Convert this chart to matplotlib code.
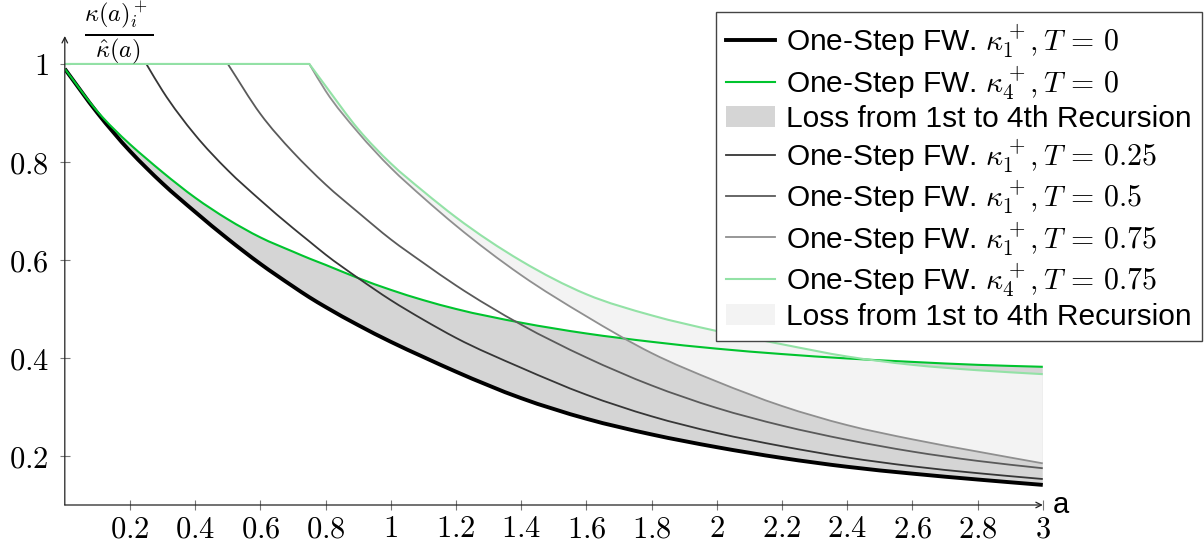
import numpy as np
import matplotlib
matplotlib.use("Agg")
import matplotlib.pyplot as plt
from matplotlib.patches import Patch, PathPatch
from matplotlib.lines import Line2D
from matplotlib.path import Path

plt.rcParams['font.family'] = ['Liberation Sans', 'DejaVu Sans']
plt.rcParams['mathtext.fontset'] = 'cm'

#values
a = [0, 0.1, 0.2, 0.25, 0.3, 0.4, 0.5, 0.6, 0.7, 0.75, 0.8, 0.9, 1.0, 1.1, 1.2,
     1.4, 1.6, 1.8, 2.0, 2.2, 2.4, 2.6, 2.8, 3.0]
k1_T0 = [0.99, 0.90, 0.822, 0.788, 0.756, 0.698, 0.643, 0.592, 0.546, 0.524, 0.504, 0.467,
         0.433, 0.402, 0.372, 0.318, 0.276, 0.244, 0.218, 0.196, 0.178, 0.164, 0.152, 0.141]
k4_T0 = [0.99, 0.903, 0.836, 0.807, 0.779, 0.727, 0.683, 0.646, 0.617, 0.603, 0.59, 0.563,
         0.539, 0.518, 0.5, 0.472, 0.45, 0.433, 0.419, 0.408, 0.399, 0.392, 0.386, 0.382]
k1_T025 = [1, 1, 1, 1, 0.945, 0.855, 0.783, 0.722, 0.665, 0.638, 0.611, 0.563,
           0.518, 0.478, 0.441, 0.38, 0.325, 0.281, 0.247, 0.22, 0.197, 0.179, 0.165, 0.153]
k1_T05 = [1, 1, 1, 1, 1, 1, 1, 0.898, 0.82, 0.786, 0.754, 0.697,
          0.642, 0.594, 0.548, 0.468, 0.401, 0.344, 0.298, 0.262, 0.233, 0.209, 0.19, 0.175]
k1_T075 = [1, 1, 1, 1, 1, 1, 1, 1, 1, 1, 0.945, 0.86,
           0.788, 0.727, 0.67, 0.569, 0.485, 0.41, 0.352, 0.302, 0.263, 0.234, 0.209, 0.185]
k4_T075 = [1, 1, 1, 1, 1, 1, 1, 1, 1, 1, 0.955, 0.867,
           0.797, 0.74, 0.687, 0.598, 0.53, 0.487, 0.455, 0.428, 0.403, 0.386, 0.375, 0.367]
#index in a where each curve leaves the flat part (a = T)
start_T = {'0': 0, '0.25': 3, '0.5': 6, '0.75': 9}

xticks = [0.2, 0.4, 0.6, 0.8, 1, 1.2, 1.4, 1.6, 1.8, 2, 2.2, 2.4, 2.6, 2.8, 3]
yticks = [0.2, 0.4, 0.6, 0.8, 1]

labels = [r'One-Step FW. $\kappa_1^+, T \,=\, 0$',
          r'One-Step FW. $\kappa_4^+, T \,=\, 0$',
          'Loss from 1st to 4th Recursion',
          r'One-Step FW. $\kappa_1^+, T \,=\, 0.25$',
          r'One-Step FW. $\kappa_1^+, T \,=\, 0.5$',
          r'One-Step FW. $\kappa_1^+, T \,=\, 0.75$',
          r'One-Step FW. $\kappa_4^+, T \,=\, 0.75$',
          'Loss from 1st to 4th Recursion']

GREEN = '#00c42e'
LGREEN = '#93e2a6'
FILL1 = '#d5d5d5'
FILL2 = '#f3f3f3'


def curve(x, y, start=0):
    #flat part as a line, then a smooth (hermite) path through the points
    x = np.asarray(x, float)
    y = np.asarray(y, float)
    verts = [(x[0], y[0])]
    codes = [Path.MOVETO]
    if start > 0:
        verts.append((x[start], y[start]))
        codes.append(Path.LINETO)
    xs, ys = x[start:], y[start:]
    m = np.gradient(ys, xs)
    for i in range(len(xs) - 1):
        h = xs[i + 1] - xs[i]
        verts += [(xs[i] + h / 3, ys[i] + m[i] * h / 3),
                  (xs[i + 1] - h / 3, ys[i + 1] - m[i + 1] * h / 3),
                  (xs[i + 1], ys[i + 1])]
        codes += [Path.CURVE4] * 3
    return verts, codes


def band(x, lo, hi):
    up_v, up_c = curve(x, hi)
    lo_v, lo_c = curve(x, lo)
    verts = up_v + lo_v[::-1] + [up_v[0]]
    codes = up_c + [Path.LINETO] + lo_c[1:] + [Path.CLOSEPOLY]
    return Path(verts, codes)


def draw(ax, x, y, start, color, lw):
    v, c = curve(x, y, start)
    ax.add_patch(PathPatch(Path(v, c), fill=False, edgecolor=color, lw=lw,
                           joinstyle='round', capstyle='butt', zorder=3))


fig = plt.figure(figsize=(12.04, 5.51), dpi=100)
ax = fig.add_axes([64.8 / 1204, 46 / 551, 978 / 1204, 469 / 551])
ax.set_xlim(0, 3)
ax.set_ylim(0.1, 1.057)

#fills first so lines sit on top
s = start_T['0.75']
ax.add_patch(PathPatch(band(a, k1_T0, k4_T0), facecolor=FILL1, lw=0, zorder=1))
ax.add_patch(PathPatch(band(a[s:], k1_T075[s:], k4_T075[s:]), facecolor=FILL2, lw=0, zorder=1.1))

draw(ax, a, k1_T0, start_T['0'], 'black', 2.8)
draw(ax, a, k4_T0, start_T['0'], GREEN, 1.5)
draw(ax, a, k1_T025, start_T['0.25'], '#363636', 1.3)
draw(ax, a, k1_T05, start_T['0.5'], '#5a5a5a', 1.3)
draw(ax, a, k1_T075, start_T['0.75'], '#8f8f8f', 1.3)
draw(ax, a, k4_T075, start_T['0.75'], LGREEN, 1.5)

#axis lines with arrows
for sp in ax.spines.values():
    sp.set_visible(False)
ax.annotate('', xy=(1, 0), xytext=(0, 0), xycoords='axes fraction',
            arrowprops=dict(arrowstyle='->', lw=0.9, color='#222222', shrinkA=0, shrinkB=0))
ax.annotate('', xy=(0, 1), xytext=(0, 0), xycoords='axes fraction',
            arrowprops=dict(arrowstyle='->', lw=0.9, color='#222222', shrinkA=0, shrinkB=0))

ax.set_xticks(xticks)
ax.set_xticklabels(['$%g$' % t for t in xticks])
ax.set_yticks(yticks)
ax.set_yticklabels(['$%g$' % t for t in yticks])
ax.tick_params(direction='inout', length=7, width=0.8, color='#777777', labelsize=22)
ax.tick_params(axis='x', pad=3)
ax.tick_params(axis='y', pad=8)

ax.text(1.01, 0, 'a', transform=ax.transAxes, ha='left', va='center', fontsize=21)
ax.text(0.055, 1.005, r'$\frac{\kappa(a)_i^+}{\hat{\kappa}(a)}$', transform=ax.transAxes,
        ha='center', va='center', fontsize=25)

handles = [Line2D([], [], color='black', lw=2.8),
           Line2D([], [], color=GREEN, lw=1.5),
           Patch(facecolor=FILL1, edgecolor='none'),
           Line2D([], [], color='#363636', lw=1.3),
           Line2D([], [], color='#5a5a5a', lw=1.3),
           Line2D([], [], color='#8f8f8f', lw=1.3),
           Line2D([], [], color=LGREEN, lw=1.5),
           Patch(facecolor=FILL2, edgecolor='none')]
leg = fig.legend(handles, labels, loc='upper right', bbox_to_anchor=(1202 / 1204, 1 - 12 / 551),
                 bbox_transform=fig.transFigure, fontsize=21.5, frameon=True, fancybox=False,
                 framealpha=1, edgecolor='#444444', borderpad=0.35, borderaxespad=0,
                 handlelength=1.65, handletextpad=0.35, labelspacing=0.12)
leg.get_frame().set_linewidth(1.0)
leg.set_zorder(10)

fig.savefig('out.png', dpi=100)
